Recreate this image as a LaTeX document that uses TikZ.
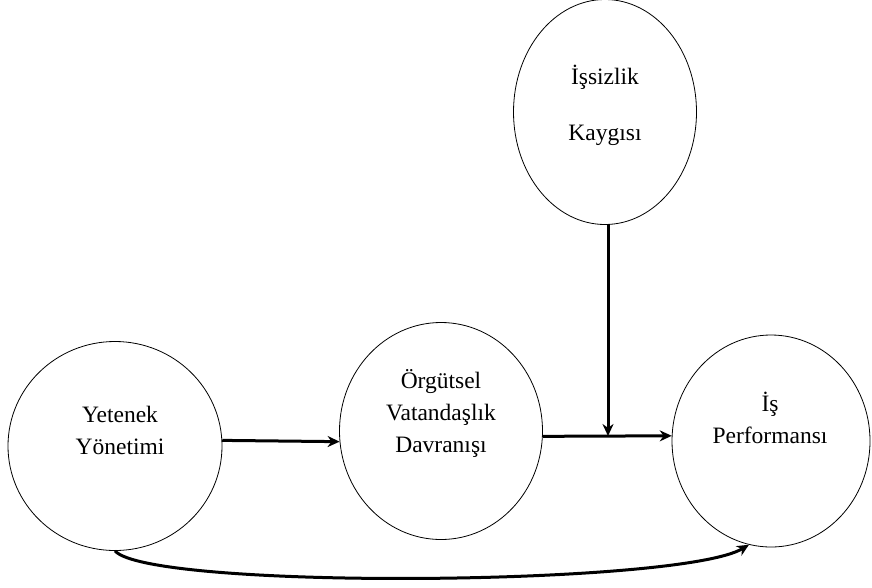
\documentclass[tikz,border=0pt]{standalone}
\usepackage{fontspec}
\setmainfont{Liberation Serif}
\usetikzlibrary{shapes.geometric,arrows.meta}
\begin{document}
\begin{tikzpicture}[x=1pt,y=-1pt,
  oval/.style={draw,ellipse,line width=0.8pt,inner sep=0pt},
  lbl/.style={align=center,font=\fontsize{23.5}{32}\selectfont,inner sep=0pt},
  arr/.style={line width=3pt,-{Stealth[length=12pt,width=11pt]}}]
\useasboundingbox (0,0) rectangle (872,587);
\node[oval,minimum width=214pt,minimum height=209pt] (yet) at (115,446) {};
\node[oval,minimum width=203pt,minimum height=217pt] (org) at (441,431) {};
\node[oval,minimum width=198pt,minimum height=212pt] (per) at (771,441) {};
\node[oval,minimum width=183pt,minimum height=225pt] (kay) at (605,112) {};
\node[lbl] (tyet) at (120,430) {Yetenek\\Yönetimi};
\node[lbl] (torg) at (441,413) {Örgütsel\\Vatandaşlık\\Davranışı};
\node[lbl] (tper) at (770,418) {İş\\Performansı};
\node[lbl,font=\fontsize{23.5}{56}\selectfont] (tkay) at (605,105) {İşsizlik\\Kaygısı};
\draw[arr] (yet.3) -- (org.186);
\draw[arr] (org.-3) -- (per.177);
\coordinate (m) at (608,436);
\draw[arr] (kay.south -| m) -- (m);
\draw[arr] (yet.south) .. controls (150,590) and (680,586) .. (per.258);
\end{tikzpicture}
\end{document}
